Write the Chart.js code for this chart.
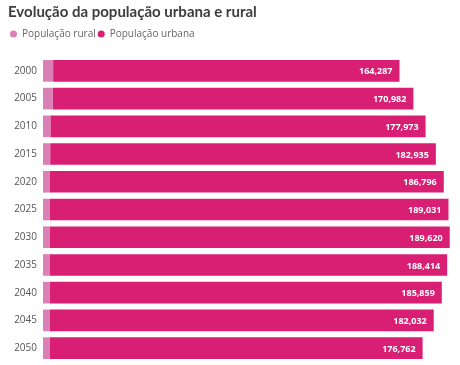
<!DOCTYPE html>
<html>
<head>
<meta charset="utf-8">
<script src="https://cdn.jsdelivr.net/npm/chart.js@4/dist/chart.umd.min.js"></script>
<style>
  html, body { margin: 0; padding: 0; background: #fff; overflow: hidden; }
  canvas { display: block; }
</style>
</head>
<body>
<canvas id="chart" width="460" height="365"></canvas>
<script>
// --- Dados ---
const anos = ['2000', '2005', '2010', '2015', '2020', '2025', '2030', '2035', '2040', '2045', '2050'];
const rural = [4800, 4700, 3500, 3400, 3300, 3300, 3300, 3300, 3300, 3300, 3300];
const urbana = [164287, 170982, 177973, 182935, 186796, 189031, 189620, 188414, 185859, 182032, 176762];

const corRural = '#db7fb7';
const corUrbana = '#d81f74';

// rótulos brancos no fim da barra urbana
const rotulos = {
  id: 'rotulos',
  afterDatasetsDraw(chart) {
    const ctx = chart.ctx;
    const meta = chart.getDatasetMeta(1);
    ctx.save();
    ctx.font = 'bold 9px "Open Sans"';
    ctx.fillStyle = '#fff';
    ctx.textAlign = 'right';
    ctx.textBaseline = 'middle';
    meta.data.forEach((bar, i) => {
      ctx.fillText(urbana[i].toLocaleString('en-US'), bar.x - 7, bar.y + 1);
    });
    ctx.restore();
  }
};

// mais espaço abaixo da legenda
const espacoLegenda = {
  id: 'espacoLegenda',
  beforeLayout(chart) {
    const lg = chart.legend;
    if (lg && !lg._espaco) {
      const fit = lg.fit.bind(lg);
      lg.fit = function () { fit(); this.height = Math.max(this.height, 30); };
      lg._espaco = true;
    }
  }
};

new Chart(document.getElementById('chart'), {
  type: 'bar',
  data: {
    labels: anos,
    datasets: [
      { label: 'População rural', data: rural, backgroundColor: corRural, borderWidth: 0 },
      { label: 'População urbana', data: urbana, backgroundColor: corUrbana, borderWidth: 0 }
    ]
  },
  options: {
    indexAxis: 'y',
    responsive: false,
    animation: false,
    barPercentage: 0.78,
    categoryPercentage: 1,
    layout: { padding: { left: 8, right: 8, top: 3, bottom: 3 } },
    plugins: {
      title: {
        display: true,
        text: 'Evolução da população urbana e rural',
        align: 'start',
        color: '#3d3d3d',
        font: { family: 'Lato', size: 15, weight: 'bold' },
        padding: { top: 0, bottom: 6 }
      },
      legend: {
        align: 'start',
        labels: {
          usePointStyle: true,
          pointStyle: 'circle',
          boxWidth: 7,
          boxHeight: 5,
          padding: 2,
          color: '#666',
          font: { family: 'Open Sans', size: 10 }
        }
      },
      tooltip: { enabled: false }
    },
    scales: {
      x: { stacked: true, display: false, min: 0, max: 194000 },
      y: {
        stacked: true,
        grid: { display: false, drawTicks: false },
        border: { display: false },
        ticks: { color: '#555', padding: 6, font: { family: 'Open Sans', size: 10 } },
        afterFit(scale) { scale.width = 35; scale.paddingBottom = 0; scale.paddingTop = 0; }
      }
    }
  },
  plugins: [rotulos, espacoLegenda]
});
</script>
</body>
</html>
